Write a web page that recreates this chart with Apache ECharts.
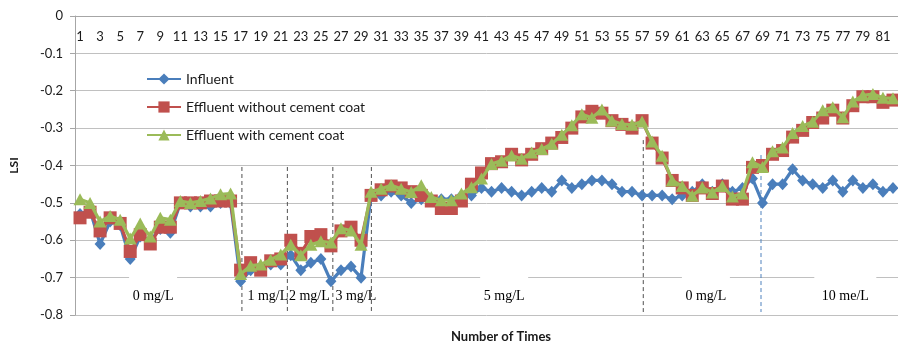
<!DOCTYPE html>
<html>
<head>
<meta charset="utf-8">
<script src="https://cdn.jsdelivr.net/npm/echarts@6/dist/echarts.min.js"></script>
<style>
  html, body { margin: 0; padding: 0; background: #fff; }
  #chart { width: 898px; height: 350px; }
</style>
</head>
<body>
<div id="chart"></div>
<script>
// Sample numbers 1..82
const categories = Array.from({ length: 82 }, (_, i) => String(i + 1));

const influent = [
  -0.53, -0.52, -0.61, -0.55, -0.56, -0.65, -0.59, -0.60, -0.57, -0.58,
  -0.50, -0.51, -0.51, -0.51, -0.50, -0.50, -0.71, -0.68, -0.67, -0.665,
  -0.665, -0.64, -0.68, -0.66, -0.65, -0.71, -0.68, -0.67, -0.70, -0.48,
  -0.48, -0.47, -0.48, -0.50, -0.49, -0.49, -0.49, -0.49, -0.48, -0.48,
  -0.46, -0.47, -0.46, -0.47, -0.48, -0.47, -0.46, -0.47, -0.44, -0.46,
  -0.45, -0.44, -0.44, -0.45, -0.47, -0.47, -0.48, -0.48, -0.48, -0.49,
  -0.48, -0.47, -0.45, -0.47, -0.45, -0.47, -0.46, -0.435, -0.50, -0.45,
  -0.45, -0.41, -0.44, -0.45, -0.46, -0.44, -0.47, -0.44, -0.46, -0.45,
  -0.47, -0.46
];

const effluentNoCoat = [
  -0.54, -0.525, -0.575, -0.54, -0.555, -0.63, -0.585, -0.61, -0.565, -0.565,
  -0.50, -0.50, -0.50, -0.495, -0.495, -0.495, -0.68, -0.66, -0.68, -0.655,
  -0.65, -0.60, -0.635, -0.59, -0.585, -0.615, -0.575, -0.565, -0.60, -0.48,
  -0.465, -0.455, -0.46, -0.47, -0.48, -0.495, -0.515, -0.515, -0.495, -0.45,
  -0.42, -0.395, -0.39, -0.37, -0.385, -0.37, -0.355, -0.34, -0.325, -0.30,
  -0.27, -0.255, -0.26, -0.28, -0.29, -0.30, -0.28, -0.34, -0.38, -0.44,
  -0.46, -0.48, -0.46, -0.475, -0.455, -0.49, -0.49, -0.405, -0.40, -0.37,
  -0.36, -0.324, -0.306, -0.285, -0.273, -0.252, -0.273, -0.24, -0.216, -0.216,
  -0.231, -0.225
];

const effluentCoat = [
  -0.49, -0.50, -0.55, -0.535, -0.545, -0.595, -0.555, -0.59, -0.54, -0.545,
  -0.495, -0.50, -0.495, -0.488, -0.477, -0.475, -0.69, -0.668, -0.665, -0.652,
  -0.638, -0.612, -0.64, -0.612, -0.603, -0.606, -0.568, -0.574, -0.612, -0.47,
  -0.462, -0.453, -0.462, -0.471, -0.453, -0.484, -0.493, -0.493, -0.475, -0.458,
  -0.435, -0.396, -0.387, -0.373, -0.382, -0.365, -0.356, -0.342, -0.318, -0.292,
  -0.263, -0.272, -0.25, -0.28, -0.289, -0.291, -0.282, -0.336, -0.374, -0.44,
  -0.455, -0.481, -0.459, -0.472, -0.455, -0.483, -0.475, -0.391, -0.404, -0.362,
  -0.352, -0.313, -0.294, -0.283, -0.252, -0.244, -0.271, -0.229, -0.212, -0.209,
  -0.219, -0.22
];

// Phase boundaries (in sample-number units) and the concentration of each phase
const phaseBreaks = [17.13, 21.66, 26.19, 30.03, 57.12, 68.85];
const phaseBreakTops = [-0.404, -0.404, -0.404, -0.404, -0.332, -0.372];
const phaseLabels = ['0 mg/L', '1 mg/L', '2 mg/L', '3 mg/L', '5 mg/L', '0 mg/L', '10 me/L'];
const phaseLabelAt = [8.28, 19.71, 23.85, 28.48, 43.26, 63.36, 77.25];
const phaseLabelBoxed = [true, false, false, false, true, true, true];

const yTicks = [0, -0.1, -0.2, -0.3, -0.4, -0.5, -0.6, -0.7, -0.8];

const FONT = 'Lato, "Open Sans", sans-serif';
const SERIF = '"Liberation Serif", "DejaVu Serif", serif';
const GRID_GRAY = '#c0c0c0';
const AXIS_GRAY = '#a6a6a6';

const chart = echarts.init(document.getElementById('chart'), null, { renderer: 'canvas' });

const breakSeries = phaseBreaks.map((x, i) => ({
  type: 'line',
  xAxisIndex: 1,
  yAxisIndex: 0,
  silent: true,
  symbol: 'none',
  z: 1,
  lineStyle: {
    width: 1,
    type: [4, 3],
    color: i === phaseBreaks.length - 1 ? '#4f81bd' : '#505050'
  },
  data: [[x, phaseBreakTops[i]], [x, -0.792]]
}));

const labelSeries = {
  type: 'custom',
  xAxisIndex: 1,
  yAxisIndex: 0,
  silent: true,
  z: 1,
  data: phaseLabels.map((t, i) => [phaseLabelAt[i], -0.751, i]),
  renderItem: function (params, api) {
    const p = api.coord([api.value(0), api.value(1)]);
    const idx = api.value(2);
    const children = [];
    if (phaseLabelBoxed[idx]) {
      const w = idx === 6 ? 62 : 48;
      children.push({
        type: 'rect',
        shape: { x: p[0] - w / 2, y: p[1] - 21, width: w, height: 34 },
        style: { fill: '#ffffff' }
      });
    }
    children.push({
      type: 'text',
      style: {
        x: p[0], y: p[1],
        text: phaseLabels[idx],
        align: 'center',
        verticalAlign: 'middle',
        font: '14px ' + SERIF,
        fill: '#000'
      }
    });
    return { type: 'group', children: children };
  }
};

function lineSeries(name, data, symbol, size, color, z) {
  return {
    name: name,
    type: 'line',
    data: data,
    z: z,
    symbol: symbol,
    symbolSize: size,
    showSymbol: true,
    showAllSymbol: true,
    lineStyle: { width: 3.2, color: color },
    itemStyle: { color: color }
  };
}

const option = {
  backgroundColor: '#ffffff',
  animation: false,
  grid: { left: 72, top: 16, right: -6, bottom: 35, containLabel: false },
  legend: {
    orient: 'vertical',
    left: 141,
    top: 67,
    itemWidth: 34,
    itemHeight: 14,
    itemGap: 14,
    data: ['Influent', 'Effluent without cement coat', 'Effluent with cement coat'],
    textStyle: { fontFamily: FONT, fontSize: 14, color: '#1a1a1a' }
  },
  xAxis: [
    {
      type: 'category',
      data: categories,
      position: 'top',
      boundaryGap: true,
      axisLine: { onZero: false, lineStyle: { color: AXIS_GRAY, width: 1 } },
      axisTick: { inside: true, length: 4, interval: 0, lineStyle: { color: AXIS_GRAY } },
      axisLabel: {
        inside: true, interval: 1, margin: 14,
        fontFamily: FONT, fontSize: 13, color: '#1a1a1a'
      },
      splitLine: { show: false }
    },
    {
      type: 'value',
      min: 0.5,
      max: 82.5,
      position: 'bottom',
      show: true,
      axisLine: { show: false },
      axisTick: { show: false },
      axisLabel: { show: false },
      splitLine: { show: false }
    }
  ],
  yAxis: {
    type: 'value',
    min: yTicks[yTicks.length - 1],
    max: yTicks[0],
    interval: 0.1,
    name: 'LSI',
    nameLocation: 'middle',
    nameRotate: 90,
    nameGap: 55,
    nameTextStyle: { fontFamily: FONT, fontSize: 12, fontWeight: 'bold', color: '#1a1a1a' },
    axisLine: { show: true, lineStyle: { color: AXIS_GRAY } },
    axisTick: { show: true, length: 5, lineStyle: { color: AXIS_GRAY } },
    axisLabel: {
      margin: 12, fontFamily: FONT, fontSize: 13, color: '#1a1a1a',
      formatter: v => (Math.abs(v) < 1e-9 ? '0' : String(Math.round(v * 10) / 10))
    },
    splitLine: { lineStyle: { color: GRID_GRAY, width: 1 } }
  },
  graphic: [
    {
      type: 'text',
      style: {
        x: 0, y: 0,
        text: 'Number of Times',
        font: 'bold 13px ' + FONT,
        fill: '#1a1a1a',
        align: 'center',
        verticalAlign: 'middle'
      },
      position: [501, 337]
    }
  ],
  series: [
    lineSeries('Influent', influent, 'diamond', [11, 12], '#4a7ebb', 3),
    lineSeries('Effluent without cement coat', effluentNoCoat, 'rect', 13, '#c0504d', 4),
    lineSeries('Effluent with cement coat', effluentCoat, 'triangle', [13, 12], '#9bbb59', 5),
    labelSeries
  ].concat(breakSeries)
};

chart.setOption(option);
</script>
</body>
</html>
